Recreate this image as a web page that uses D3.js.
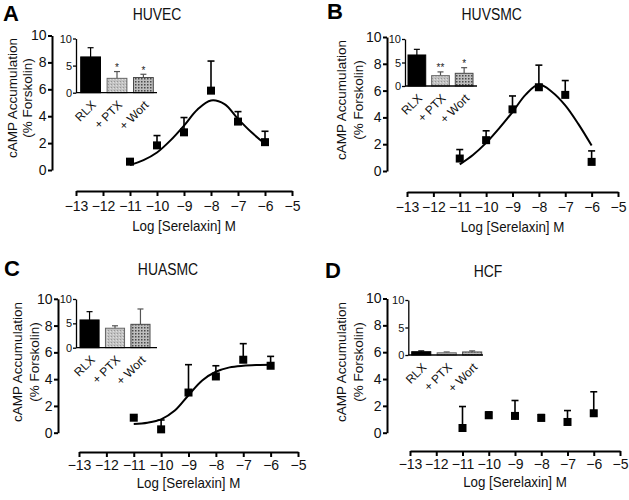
<!DOCTYPE html>
<html><head><meta charset="utf-8">
<script src="https://cdn.jsdelivr.net/npm/d3@7"></script>
<style>body{margin:0;background:#fff}svg{display:block}text{font-family:"Liberation Sans",Arial,sans-serif}</style>
</head><body><svg id="c" width="629" height="500"></svg>
<script>
// ---------- data ----------
const logConc = [-11, -10, -9, -8, -7, -6];
const xTicks = [-13, -12, -11, -10, -9, -8, -7, -6, -5];
const yTicks = [0, 2, 4, 6, 8, 10];
const insetTicks = [0, 5, 10];
const insetCats = ["RLX", "+ PTX", "+ Wort"];
const fitX = [-11, -10.5, -10, -9.5, -9, -8.5, -8, -7.5, -7, -6.5, -6];

const huvecMean  = [0.62, 1.83, 2.8, 5.9, 3.6, 2.07];
const huvecUpper = [0.78, 2.56, 3.9, 8.1, 4.34, 2.88];
const huvecFit   = [0.37, 0.73, 1.3, 2.2, 3.3, 4.5, 5.17, 4.9, 3.8, 2.8, 1.95];
const huvecInset      = [6.6, 2.65, 2.8];
const huvecInsetUpper = [8.3, 3.9, 3.4];
const huvecStars      = ["", "*", "*"];

const huvsmcMean  = [0.93, 2.3, 4.6, 6.25, 5.68, 0.68];
const huvsmcUpper = [1.6, 3.0, 5.6, 7.9, 6.75, 1.5];
const huvsmcFit   = [0.5, 1.2, 2.1, 3.2, 4.4, 5.7, 6.45, 5.9, 4.9, 3.5, 1.9];
const huvsmcInset      = [6.6, 2.2, 2.7];
const huvsmcInsetUpper = [7.8, 3.0, 3.9];
const huvsmcStars      = ["", "**", "*"];

const huasmcMean  = [1.12, 0.25, 3.0, 4.2, 5.45, 5.0];
const huasmcUpper = [1.2, 0.95, 5.08, 5.0, 6.65, 5.7];
const huasmcFit   = [0.65, 0.75, 1.0, 1.65, 2.8, 3.9, 4.55, 4.88, 5.0, 5.05, 5.07];
const huasmcInset      = [5.7, 4.0, 4.8];
const huasmcInsetUpper = [7.4, 4.5, 7.95];
const huasmcStars      = ["", "", ""];

const hcfMean  = [0.35, 1.3, 1.25, 1.1, 0.8, 1.45];
const hcfUpper = [1.95, 1.55, 2.4, 1.35, 1.65, 3.05];
const hcfInset      = [0.6, 0.4, 0.55];
const hcfInsetUpper = [0.75, 0.55, 0.75];
const hcfStars      = ["", "", ""];

// ---------- layout ----------
const panels = [
  {letter:"A", title:"HUVEC", mean:huvecMean, upper:huvecUpper, fit:huvecFit,
   inset:huvecInset, insetUpper:huvecInsetUpper, stars:huvecStars,
   L:{lx:3, ly:21, tx:157, ty:20, yAxisX:52, yRange:[170,35.5], xAxisY:191, xRange:[76,292], tp:5,
      ylab:[12,27.5], ylabY:98, xlabY:231,
      insetAxisX:76, insetAxisEnd:157, insetY:[92.7,38.5], band:[80.7,153.3]}},
  {letter:"B", title:"HUVSMC", mean:huvsmcMean, upper:huvsmcUpper, fit:huvsmcFit,
   inset:huvsmcInset, insetUpper:huvsmcInsetUpper, stars:huvsmcStars,
   L:{lx:327, ly:19, tx:491.7, ty:20, yAxisX:387, yRange:[171,37], xAxisY:192, xRange:[407,618], tp:5,
      ylab:[341,358.5], ylabY:100, xlabY:232,
      insetAxisX:405, insetAxisEnd:477, insetY:[86,39], band:[408,473]}},
  {letter:"C", title:"HUASMC", mean:huasmcMean, upper:huasmcUpper, fit:huasmcFit,
   inset:huasmcInset, insetUpper:huasmcInsetUpper, stars:huasmcStars,
   L:{lx:4, ly:276, tx:168, ty:275, yAxisX:58, yRange:[432.7,298.8], xAxisY:452, xRange:[79,298], tp:3,
      ylab:[17,34], ylabY:362, xlabY:487.5,
      insetAxisX:76, insetAxisEnd:157, insetY:[347.7,299], band:[80,150]}},
  {letter:"D", title:"HCF", mean:hcfMean, upper:hcfUpper, fit:null,
   inset:hcfInset, insetUpper:hcfInsetUpper, stars:hcfStars,
   L:{lx:325, ly:278, tx:488, ty:277, yAxisX:387, yRange:[432.7,298.5], xAxisY:451, xRange:[410,620], tp:3,
      ylab:[341,358.5], ylabY:362, xlabY:486.5,
      insetAxisX:408.3, insetAxisEnd:483, insetY:[355,300], band:[411.7,481.7]}}
];

const svg = d3.select("#c");
const defs = svg.append("defs");
// PTX: light speckled gray
const p1 = defs.append("pattern").attr("id","ptx").attr("patternUnits","userSpaceOnUse").attr("width",3).attr("height",3);
p1.append("rect").attr("width",3).attr("height",3).attr("fill","#c2c2c2");
p1.append("rect").attr("x",0).attr("y",0).attr("width",1).attr("height",1).attr("fill","#969696");
p1.append("rect").attr("x",2).attr("y",1).attr("width",1).attr("height",1).attr("fill","#dedede");
// Wort: dotted checker
const p2 = defs.append("pattern").attr("id","wort").attr("patternUnits","userSpaceOnUse").attr("width",3).attr("height",3);
p2.append("rect").attr("width",3).attr("height",3).attr("fill","#bdbdbd");
p2.append("rect").attr("x",0).attr("y",0).attr("width",1.5).attr("height",1.5).attr("fill","#4a4a4a");
const barFill = ["#000", "url(#ptx)", "url(#wort)"];
const barStroke = ["#000", "#666", "#4a4a4a"];

function styleAxis(g, fs, sw) {
  g.attr("font-size", fs).attr("font-family", '"Liberation Sans", Arial, sans-serif');
  g.select(".domain").attr("stroke","#000").attr("stroke-width", sw);
  g.selectAll(".tick line").attr("stroke","#000").attr("stroke-width", sw);
  g.selectAll(".tick text").attr("fill","#111");
}

panels.forEach(p => {
  const L = p.L;
  const x = d3.scaleLinear().domain([-13, -5]).range(L.xRange);
  const y = d3.scaleLinear().domain([0, 10]).range(L.yRange);

  // letter & title
  svg.append("text").attr("x", L.lx).attr("y", L.ly).attr("font-size", 22).attr("font-weight", "bold").text(p.letter);
  svg.append("text").attr("transform", `translate(${L.tx},${L.ty}) scale(0.87,1)`)
    .attr("text-anchor","middle").attr("font-size", 16).attr("fill","#111").text(p.title);

  // y axis
  const gy = svg.append("g").attr("transform", `translate(${L.yAxisX},0)`)
    .call(d3.axisLeft(y).tickValues(yTicks).tickSize(4).tickPadding(1.5).tickSizeOuter(0));
  styleAxis(gy, 14, 2);

  // x axis
  const gx = svg.append("g").attr("transform", `translate(0,${L.xAxisY})`)
    .call(d3.axisBottom(x).tickValues(xTicks).tickSize(5).tickPadding(L.tp).tickSizeOuter(0));
  styleAxis(gx, 14, 2);

  // axis labels
  svg.append("text").attr("text-anchor","middle").attr("font-size", 13.5).attr("fill","#111")
    .attr("transform", `translate(${L.ylab[0]},${L.ylabY}) rotate(-90)`)
    .append("tspan").attr("x",0).attr("dy","0.35em").text("cAMP Accumulation");
  svg.append("text").attr("text-anchor","middle").attr("font-size", 13.5).attr("fill","#111")
    .attr("transform", `translate(${L.ylab[1]},${L.ylabY}) rotate(-90)`)
    .append("tspan").attr("x",0).attr("dy","0.35em").text("(% Forskolin)");
  svg.append("text").attr("text-anchor","middle").attr("font-size", 14.5).attr("fill","#111")
    .attr("transform", `translate(${(L.xRange[0]+L.xRange[1])/2},${L.xlabY}) scale(0.92,1)`)
    .text("Log [Serelaxin] M");

  // fitted curve
  if (p.fit) {
    svg.append("path").datum(fitX.map((v,i)=>[v, p.fit[i]]))
      .attr("d", d3.line().x(d=>x(d[0])).y(d=>y(d[1])).curve(d3.curveCatmullRom.alpha(0.5)))
      .attr("fill","none").attr("stroke","#000").attr("stroke-width",2);
  }

  // error bars (upper only)
  const pts = logConc.map((c,i)=>({c, m:p.mean[i], u:p.upper[i]}));
  const eb = svg.append("g").attr("stroke","#000").attr("stroke-width",1.6);
  pts.forEach(d => {
    eb.append("line").attr("x1",x(d.c)).attr("x2",x(d.c)).attr("y1",y(d.m)).attr("y2",y(d.u));
    eb.append("line").attr("x1",x(d.c)-3.5).attr("x2",x(d.c)+3.5).attr("y1",y(d.u)).attr("y2",y(d.u));
  });
  svg.append("g").selectAll("rect").data(pts).join("rect")
    .attr("x", d=>x(d.c)-4).attr("y", d=>y(d.m)-4).attr("width",8).attr("height",8).attr("fill","#000");

  // inset bar chart
  const xb = d3.scaleBand().domain(insetCats).range(L.band).paddingInner(0.25).paddingOuter(0);
  const yb = d3.scaleLinear().domain([0, 10]).range(L.insetY);
  const bars = insetCats.map((k,i)=>({k, v:p.inset[i], u:p.insetUpper[i], s:p.stars[i], i}));
  const ieb = svg.append("g");
  bars.forEach(d => {
    const cx = xb(d.k) + xb.bandwidth()/2;
    const col = d.i === 0 ? "#000" : "#555";
    ieb.append("line").attr("x1",cx).attr("x2",cx).attr("y1",yb(d.v)).attr("y2",yb(d.u)).attr("stroke",col).attr("stroke-width",1.2);
    ieb.append("line").attr("x1",cx-3).attr("x2",cx+3).attr("y1",yb(d.u)).attr("y2",yb(d.u)).attr("stroke",col).attr("stroke-width",1.2);
    if (d.s) svg.append("text").attr("x",cx).attr("y",yb(d.u)-0.5).attr("text-anchor","middle").attr("font-size",10).attr("fill","#222").text(d.s);
  });
  svg.append("g").selectAll("rect").data(bars).join("rect")
    .attr("x", d=>xb(d.k)).attr("width", xb.bandwidth())
    .attr("y", d=>yb(d.v)).attr("height", d=>yb(0)-yb(d.v))
    .attr("fill", d=>barFill[d.i]).attr("stroke", d=>barStroke[d.i]).attr("stroke-width",1);
  const giy = svg.append("g").attr("transform", `translate(${L.insetAxisX},0)`)
    .call(d3.axisLeft(yb).tickValues(insetTicks).tickSize(3).tickPadding(1).tickSizeOuter(0));
  styleAxis(giy, 11, 1.3);
  svg.append("line").attr("x1", L.insetAxisX).attr("x2", L.insetAxisEnd).attr("y1", yb(0)).attr("y2", yb(0))
    .attr("stroke","#000").attr("stroke-width",1.3);
  svg.append("g").selectAll("text").data(bars).join("text")
    .attr("transform", d=>`translate(${xb(d.k)+xb.bandwidth()/2+6},${yb(0)+13}) rotate(-45)`)
    .attr("text-anchor","end").attr("font-size",12).attr("fill","#111").text(d=>d.k);
});
</script></body></html>
